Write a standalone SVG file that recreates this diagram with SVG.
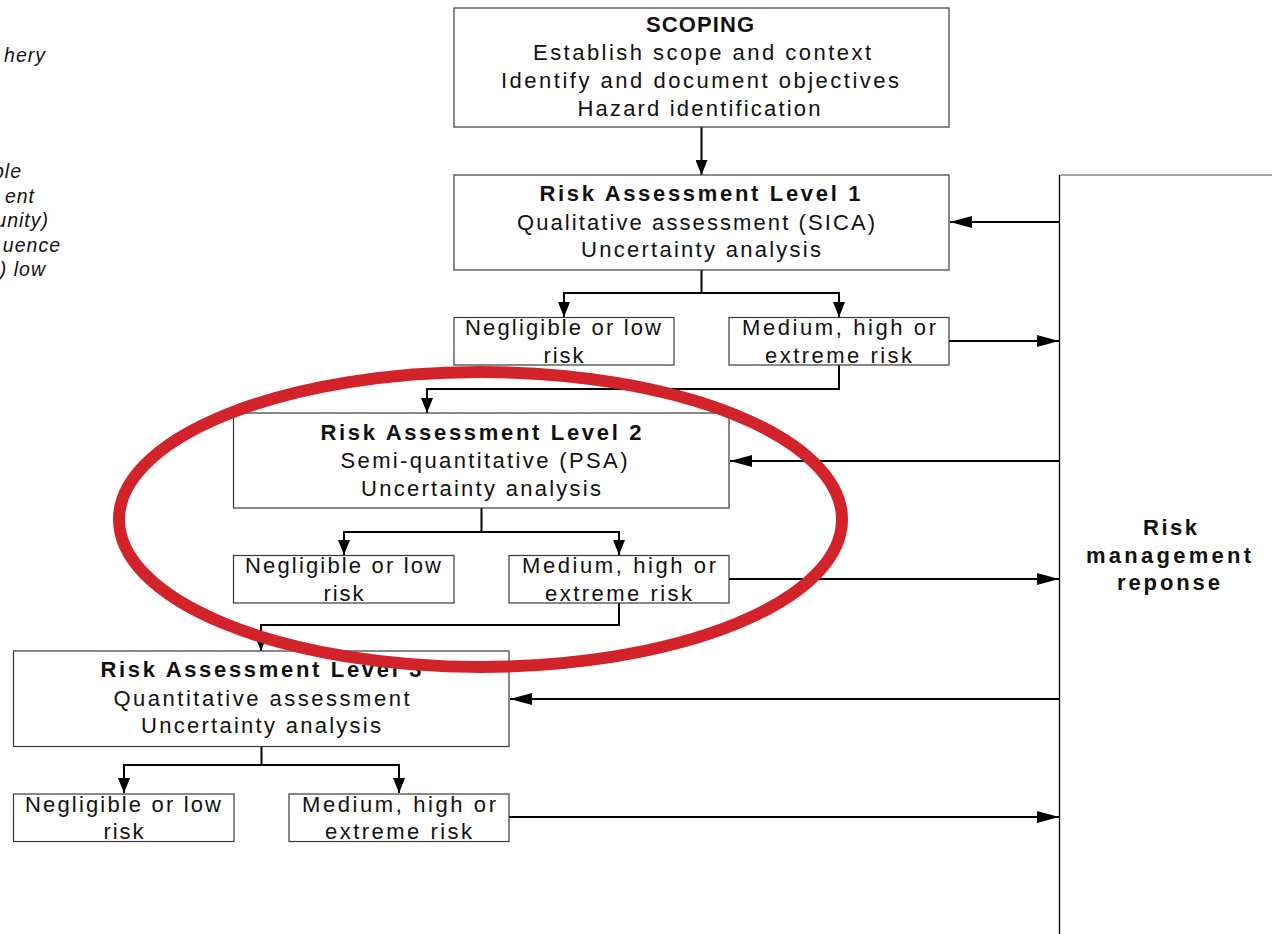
<svg xmlns="http://www.w3.org/2000/svg" width="1272" height="934" viewBox="0 0 1272 934">
<style>
  .box { fill: #fff; stroke: #3a3a3a; stroke-width: 1.2; }
  .t { font-family: "Liberation Sans", Arial, sans-serif; font-size: 22px; fill: #111; text-anchor: middle; }
  .b { font-weight: bold; }
  .side { font-family: "Liberation Sans", Arial, sans-serif; font-size: 19.5px; font-style: italic; fill: #111; text-anchor: end; letter-spacing: 1px; }
  .con { fill: none; stroke: #000; stroke-width: 2; }
</style>
<defs>
  <marker id="as" markerUnits="userSpaceOnUse" markerWidth="15" markerHeight="12" refX="15" refY="6" orient="auto">
    <path d="M0,0 L15,6 L0,12 Z" fill="#000"/>
  </marker>
  <marker id="al" markerUnits="userSpaceOnUse" markerWidth="22" markerHeight="12" refX="22" refY="6" orient="auto">
    <path d="M0,0 L22,6 L0,12 Z" fill="#000"/>
  </marker>
</defs>
<rect width="1272" height="934" fill="#fff"/>

<g id="side-notes">
  <text class="side" x="46" y="62">hery</text>
  <text class="side" x="22" y="178">ble</text>
  <text class="side" x="35" y="203">ent</text>
  <text class="side" x="49" y="227">unity)</text>
  <text class="side" x="61" y="252">uence</text>
  <text class="side" x="46" y="276">t) low</text>
</g>

<g id="connectors">
  <path class="con" d="M701.5,127 V175" marker-end="url(#as)"/>
  <path class="con" d="M701.5,270 V293 H564 V317" marker-end="url(#as)"/>
  <path class="con" d="M701.5,293 H839 V317" marker-end="url(#as)"/>
  <path class="con" d="M839,365 V389 H427 V413" marker-end="url(#as)"/>
  <path class="con" d="M481.5,508 V532 H344 V555" marker-end="url(#as)"/>
  <path class="con" d="M481.5,532 H619 V555" marker-end="url(#as)"/>
  <path class="con" d="M619,603 V625 H261 V651" marker-end="url(#as)"/>
  <path class="con" d="M261.5,746 V765 H124 V793" marker-end="url(#as)"/>
  <path class="con" d="M261.5,765 H399 V793" marker-end="url(#as)"/>
  <path class="con" d="M949,341 H1059" marker-end="url(#al)"/>
  <path class="con" d="M729,579 H1059" marker-end="url(#al)"/>
  <path class="con" d="M509,817 H1059" marker-end="url(#al)"/>
  <path class="con" d="M1059,222 H950" marker-end="url(#al)"/>
  <path class="con" d="M1059,461 H730" marker-end="url(#al)"/>
  <path class="con" d="M1059,699 H510" marker-end="url(#al)"/>
</g>

<g id="scoping">
  <rect class="box" x="454" y="8" width="495" height="119"/>
  <text class="t b" x="700" y="32" textLength="108" lengthAdjust="spacing">SCOPING</text>
  <text class="t" x="702" y="60" textLength="338" lengthAdjust="spacing">Establish scope and context</text>
  <text class="t" x="700" y="88" textLength="398" lengthAdjust="spacing">Identify and document objectives</text>
  <text class="t" x="699" y="116" textLength="243" lengthAdjust="spacing">Hazard identification</text>
</g>

<g id="level1">
  <rect class="box" x="454" y="175" width="495" height="95"/>
  <text class="t b" x="700" y="201" textLength="321" lengthAdjust="spacing">Risk Assessment Level 1</text>
  <text class="t" x="696" y="230" textLength="358" lengthAdjust="spacing">Qualitative assessment (SICA)</text>
  <text class="t" x="701" y="257" textLength="240" lengthAdjust="spacing">Uncertainty analysis</text>
</g>
<g id="l1-low">
  <rect class="box" x="454" y="317.5" width="220" height="47.5"/>
  <text class="t" x="563" y="335" textLength="196" lengthAdjust="spacing">Negligible or low</text>
  <text class="t" x="563.5" y="362.5" textLength="40" lengthAdjust="spacing">risk</text>
</g>
<g id="l1-high">
  <rect class="box" x="729" y="317.5" width="220" height="47.5"/>
  <text class="t" x="839" y="335" textLength="194" lengthAdjust="spacing">Medium, high or</text>
  <text class="t" x="838.5" y="362.5" textLength="147" lengthAdjust="spacing">extreme risk</text>
</g>

<g id="level2">
  <rect class="box" x="233.5" y="413" width="495.5" height="95"/>
  <text class="t b" x="481" y="440" textLength="321" lengthAdjust="spacing">Risk Assessment Level 2</text>
  <text class="t" x="484" y="468" textLength="287" lengthAdjust="spacing">Semi-quantitative (PSA)</text>
  <text class="t" x="481" y="496" textLength="240" lengthAdjust="spacing">Uncertainty analysis</text>
</g>
<g id="l2-low">
  <rect class="box" x="233.5" y="555.5" width="220.5" height="47.5"/>
  <text class="t" x="343" y="573" textLength="196" lengthAdjust="spacing">Negligible or low</text>
  <text class="t" x="343.5" y="600.5" textLength="40" lengthAdjust="spacing">risk</text>
</g>
<g id="l2-high">
  <rect class="box" x="509" y="555.5" width="220" height="47.5"/>
  <text class="t" x="619" y="573" textLength="194" lengthAdjust="spacing">Medium, high or</text>
  <text class="t" x="618.5" y="600.5" textLength="147" lengthAdjust="spacing">extreme risk</text>
</g>

<g id="level3">
  <rect class="box" x="13.5" y="651" width="495.5" height="95.5"/>
  <text class="t b" x="261" y="677" textLength="321" lengthAdjust="spacing">Risk Assessment Level 3</text>
  <text class="t" x="261.5" y="705.5" textLength="296" lengthAdjust="spacing">Quantitative assessment</text>
  <text class="t" x="261" y="733" textLength="240" lengthAdjust="spacing">Uncertainty analysis</text>
</g>
<g id="l3-low">
  <rect class="box" x="13.5" y="794" width="220.5" height="47.5"/>
  <text class="t" x="123" y="811.5" textLength="196" lengthAdjust="spacing">Negligible or low</text>
  <text class="t" x="123.5" y="838.5" textLength="40" lengthAdjust="spacing">risk</text>
</g>
<g id="l3-high">
  <rect class="box" x="289" y="794" width="220" height="47.5"/>
  <text class="t" x="399" y="811.5" textLength="194" lengthAdjust="spacing">Medium, high or</text>
  <text class="t" x="398.5" y="838.5" textLength="147" lengthAdjust="spacing">extreme risk</text>
</g>

<g id="risk-management">
  <line x1="1059.5" y1="175" x2="1272" y2="175" stroke="#888" stroke-width="1.5"/>
  <line x1="1059.5" y1="175" x2="1059.5" y2="934" stroke="#000" stroke-width="1.3"/>
  <text class="t b" x="1170" y="535" textLength="54" lengthAdjust="spacing">Risk</text>
  <text class="t b" x="1168.5" y="563" textLength="165" lengthAdjust="spacing">management</text>
  <text class="t b" x="1168.5" y="590" textLength="103" lengthAdjust="spacing">reponse</text>
</g>

<g id="highlight">
  <ellipse cx="480.5" cy="519.5" rx="361.5" ry="147.5" fill="none" stroke="#d2232a" stroke-width="12"/>
</g>
</svg>
